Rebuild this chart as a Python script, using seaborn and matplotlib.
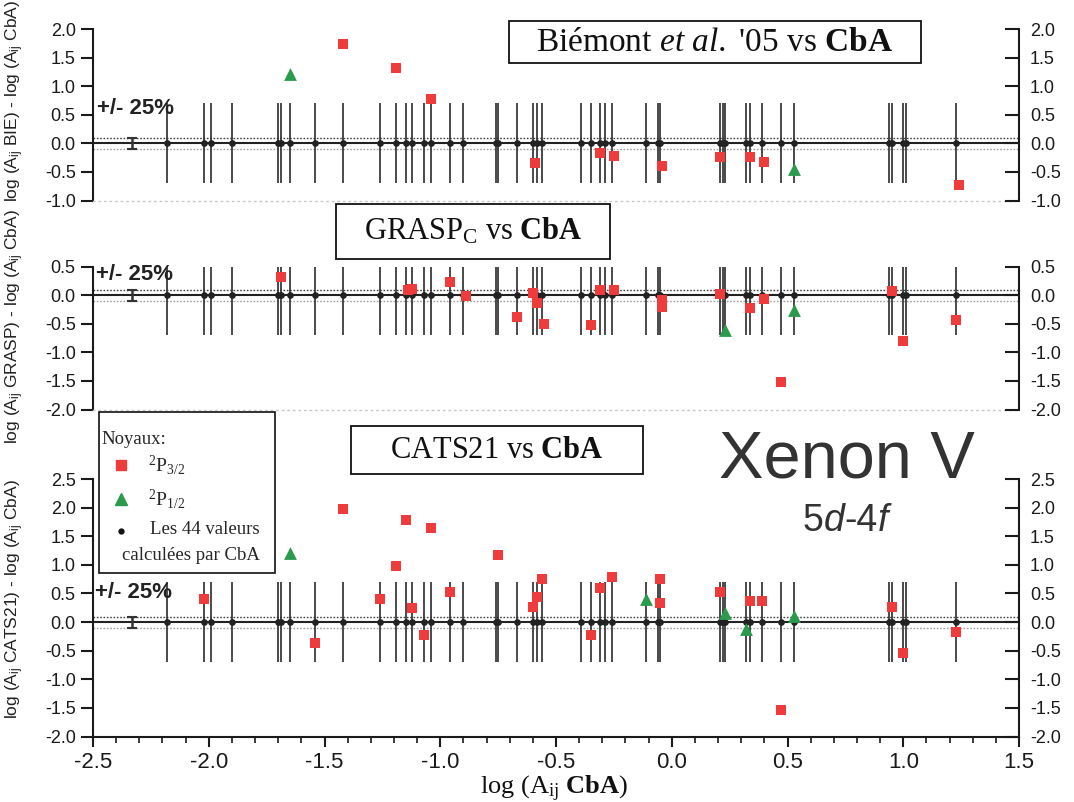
import numpy as np
import pandas as pd
import matplotlib
matplotlib.use("Agg")
import matplotlib.pyplot as plt
import seaborn as sns
from matplotlib.patches import Rectangle
from matplotlib.ticker import MultipleLocator

sns.set_style("white")
plt.rcParams['font.family'] = ['Liberation Sans', 'DejaVu Sans']
plt.rcParams['mathtext.fontset'] = 'custom'
plt.rcParams['mathtext.rm'] = 'Liberation Serif'
plt.rcParams['mathtext.it'] = 'Liberation Serif:italic'
plt.rcParams['mathtext.bf'] = 'Liberation Serif:bold'
plt.rcParams['mathtext.sf'] = 'Liberation Sans'
plt.rcParams['axes.unicode_minus'] = False

# ---------------- data ----------------
# log(A_ij CbA) of the 44 lines computed by CbA (reference points, y = 0)
cba_x = [-2.18, -2.02, -1.99, -1.90, -1.70, -1.69, -1.65, -1.54, -1.42, -1.26,
         -1.19, -1.15, -1.12, -1.07, -1.04, -0.96, -0.90, -0.76, -0.75, -0.67,
         -0.60, -0.58, -0.56, -0.39, -0.35, -0.31, -0.29, -0.26, -0.11, -0.06,
         -0.05, 0.21, 0.22, 0.23, 0.32, 0.34, 0.39, 0.47, 0.53, 0.94,
         0.95, 1.00, 1.01, 1.23]
cba_err = 0.7
band = 0.097          # log10(1.25)  -> +/- 25 %
ref_bar_x = -2.33

# Biemont et al. '05 vs CbA
bie_p32_x = [-1.42, -1.19, -1.04, -0.59, -0.31, -0.25, -0.04, 0.21, 0.34, 0.40, 1.24]
bie_p32_y = [1.73, 1.32, 0.78, -0.35, -0.16, -0.22, -0.39, -0.24, -0.24, -0.33, -0.72]
bie_p12_x = [-1.65, 0.53]
bie_p12_y = [1.21, -0.44]

# GRASP_C vs CbA
grasp_p32_x = [-1.69, -1.14, -1.12, -0.96, -0.89, -0.67, -0.60, -0.58, -0.55, -0.35,
               -0.31, -0.25, -0.04, -0.04, 0.21, 0.34, 0.40, 0.47, 0.95, 1.00, 1.23]
grasp_p32_y = [0.31, 0.09, 0.10, 0.23, -0.02, -0.39, 0.03, -0.14, -0.50, -0.53,
               0.09, 0.09, -0.08, -0.20, 0.02, -0.23, -0.07, -1.52, 0.08, -0.81, -0.43]
grasp_p12_x = [0.23, 0.53]
grasp_p12_y = [-0.61, -0.26]

# CATS21 vs CbA
cats_p32_x = [-2.02, -1.54, -1.42, -1.26, -1.19, -1.15, -1.12, -1.07, -1.04, -0.96,
              -0.75, -0.60, -0.58, -0.56, -0.35, -0.31, -0.26, -0.05, -0.05, 0.21,
              0.34, 0.39, 0.47, 0.95, 1.00, 1.23]
cats_p32_y = [0.41, -0.37, 1.98, 0.40, 0.98, 1.79, 0.24, -0.23, 1.65, 0.53,
              1.18, 0.27, 0.43, 0.75, -0.23, 0.60, 0.79, 0.75, 0.33, 0.53,
              0.37, 0.37, -1.54, 0.27, -0.54, -0.18]
cats_p12_x = [-1.65, -0.11, 0.23, 0.32, 0.53]
cats_p12_y = [1.21, 0.41, 0.15, -0.13, 0.11]

panel_titles = [r"Biémont $\mathit{et\ al.}$ '05 vs $\mathbf{CbA}$",
                r"GRASP$_\mathrm{C}$ vs $\mathbf{CbA}$",
                r"CATS21 vs $\mathbf{CbA}$"]
ylabels = [r"log (A$_\mathsf{ij}$ BIE) - log (A$_\mathsf{ij}$ CbA)",
           r"log (A$_\mathsf{ij}$ GRASP) - log (A$_\mathsf{ij}$ CbA)",
           r"log (A$_\mathsf{ij}$ CATS21) - log (A$_\mathsf{ij}$ CbA)"]
legend_labels = ["Noyaux:", r"$^2$P$_{3/2}$", r"$^2$P$_{1/2}$",
                 "Les 44 valeurs", "calculées par CbA"]

RED = "#EE3B3B"
GREEN = "#2A9A4C"
DARK = "#1a1a1a"

# ---------------- figure ----------------
W, H = 1074, 802
fig = plt.figure(figsize=(W / 100, H / 100), dpi=100)
X0, X1 = 93, 1019


def add_panel(top_px, bot_px, ylim, p32x, p32y, p12x, p12y, bottom_axis):
    ax = fig.add_axes([X0 / W, 1 - bot_px / H, (X1 - X0) / W, (bot_px - top_px) / H])
    ax.set_facecolor("none")
    ax.set_xlim(-2.5, 1.5)
    ax.set_ylim(*ylim)
    yt = np.arange(ylim[0], ylim[1] + 0.01, 0.5)
    ax.set_yticks(yt)
    ax.spines['top'].set_visible(False)
    ax.spines['right'].set_visible(False)
    ax.spines['left'].set_linewidth(1.5)
    ax.spines['left'].set_color(DARK)
    ax.tick_params(axis='y', direction='out', length=8.5, width=1.5, labelsize=13,
                   pad=4, colors=DARK, left=True)
    if bottom_axis:
        ax.spines['bottom'].set_linewidth(1.5)
        ax.spines['bottom'].set_color(DARK)
        ax.xaxis.set_major_locator(MultipleLocator(0.5))
        ax.xaxis.set_minor_locator(MultipleLocator(0.1))
        ax.tick_params(axis='x', which='major', direction='out', length=7, width=1.5,
                       labelsize=16, pad=4, colors=DARK, bottom=True)
        ax.tick_params(axis='x', which='minor', direction='out', length=4, width=1.2,
                       colors=DARK, bottom=True)
    else:
        ax.spines['bottom'].set_linestyle((0, (1, 3)))
        ax.spines['bottom'].set_color("#c8c8c8")
        ax.spines['bottom'].set_linewidth(1)
        ax.tick_params(axis='x', bottom=False, labelbottom=False)

    ax2 = ax.twinx()
    ax2.set_ylim(*ylim)
    ax2.set_yticks(yt)
    for s in ['top', 'left', 'bottom']:
        ax2.spines[s].set_visible(False)
    ax2.spines['right'].set_linewidth(1.5)
    ax2.spines['right'].set_color(DARK)
    ax2.tick_params(axis='y', direction='in', length=10, width=1.5, labelsize=13,
                    pad=8, colors=DARK, right=True)

    # +/- 25 % band and baseline
    ax.axhline(0, color="#222222", lw=1.5, zorder=1)
    ax.axhline(band, color="#444444", lw=1.0, ls=(0, (1.2, 1.2)), zorder=1)
    ax.axhline(-band, color="#a0a0a0", lw=1.0, ls=(0, (1.2, 1.2)), zorder=1)
    ax.errorbar([ref_bar_x], [0], yerr=band, fmt='none', ecolor="#333333",
                elinewidth=1.8, capsize=3.5, capthick=1.5, zorder=2)

    # CbA reference values
    ax.errorbar(cba_x, np.zeros(len(cba_x)), yerr=cba_err, fmt='o', ms=3.8,
                color="#222222", ecolor="#2b2b2b", elinewidth=1.2, capsize=0,
                zorder=2)

    sns.scatterplot(x=p32x, y=p32y, marker='s', s=60, color=RED, linewidth=0,
                    ax=ax, zorder=4, clip_on=False)
    sns.scatterplot(x=p12x, y=p12y, marker='^', s=85, color=GREEN, linewidth=0,
                    ax=ax, zorder=4, clip_on=False)
    ax.set_xlabel("")
    ax.set_ylabel("")
    return ax


add_panel(29, 200.6, (-1.0, 2.0), bie_p32_x, bie_p32_y, bie_p12_x, bie_p12_y, False)
add_panel(266.5, 409.5, (-2.0, 0.5), grasp_p32_x, grasp_p32_y, grasp_p12_x, grasp_p12_y, False)
add_panel(479, 736.5, (-2.0, 2.5), cats_p32_x, cats_p32_y, cats_p12_x, cats_p12_y, True)

# ---------------- overlay (pixel coordinates) ----------------
ov = fig.add_axes([0, 0, 1, 1])
ov.set_xlim(0, W)
ov.set_ylim(H, 0)
ov.axis('off')

serif = 'Liberation Serif'

# title boxes
boxes = [(509, 21, 921, 63, 715, 43, 24),
         (336, 204, 610, 259, 473, 231, 22),
         (351, 426, 643, 474, 497, 451, 22)]
for (x0, y0, x1, y1, tx, ty, fs), t in zip(boxes, panel_titles):
    ov.add_patch(Rectangle((x0, y0), x1 - x0, y1 - y0, fill=False, ec="#111111", lw=1.3))
    ov.text(tx, ty, t, family=serif, fontsize=fs, ha='center', va='center', color="#111111")

# +/- 25 % labels
for (px, py) in [(97, 108), (96, 275), (95, 592)]:
    ov.text(px, py, "+/- 25%", fontsize=16, fontweight='bold', ha='left', va='center',
            color="#222222")

# y labels
for yc, lab in zip([101, 327, 599], ylabels):
    ov.text(15, yc, lab, rotation=90, fontsize=12.5, ha='center', va='center', color="#222222")

# x label
ov.text(554, 794, r"log (A$_\mathrm{ij}$ $\mathbf{CbA}$)", family=serif, fontsize=19,
        ha='center', va='baseline', color="#111111")

# Xenon V
ov.text(847, 478, "Xenon V", fontsize=48, ha='center', va='baseline', color="#333333")
t1 = ov.text(803, 531, "5", fontsize=27, ha='left', va='baseline', color="#333333")
t2 = ov.annotate("d", xy=(1, 0), xycoords=t1, fontsize=27, style='italic',
                 ha='left', va='bottom', color="#333333")
t3 = ov.annotate("-4", xy=(1, 0), xycoords=t2, fontsize=27,
                 ha='left', va='bottom', color="#333333")
t4 = ov.annotate("f", xy=(1, 0), xycoords=t3, fontsize=27, style='italic',
                 ha='left', va='bottom', color="#333333")

# legend box
ov.add_patch(Rectangle((99, 412), 176, 161, fc='white', ec="#111111", lw=1.2, zorder=5))
ov.text(101, 440, legend_labels[0], family=serif, fontsize=13.5, ha='left', va='center', zorder=6)
ov.plot([120.5], [465], marker='s', ms=7, color=RED, ls='none', zorder=6)
ov.text(148, 465, legend_labels[1], family=serif, fontsize=14, ha='left', va='center', zorder=6)
ov.plot([120.5], [499], marker='^', ms=8.5, color=GREEN, ls='none', zorder=6)
ov.text(148, 499, legend_labels[2], family=serif, fontsize=14, ha='left', va='center', zorder=6)
ov.plot([120.5], [530.5], marker='o', ms=3.5, color="#111111", ls='none', zorder=6)
ov.text(150, 529, legend_labels[3], family=serif, fontsize=13.5, ha='left', va='center', zorder=6)
ov.text(122, 556, legend_labels[4], family=serif, fontsize=13.5, ha='left', va='center', zorder=6)

fig.savefig("out.png", dpi=100)
